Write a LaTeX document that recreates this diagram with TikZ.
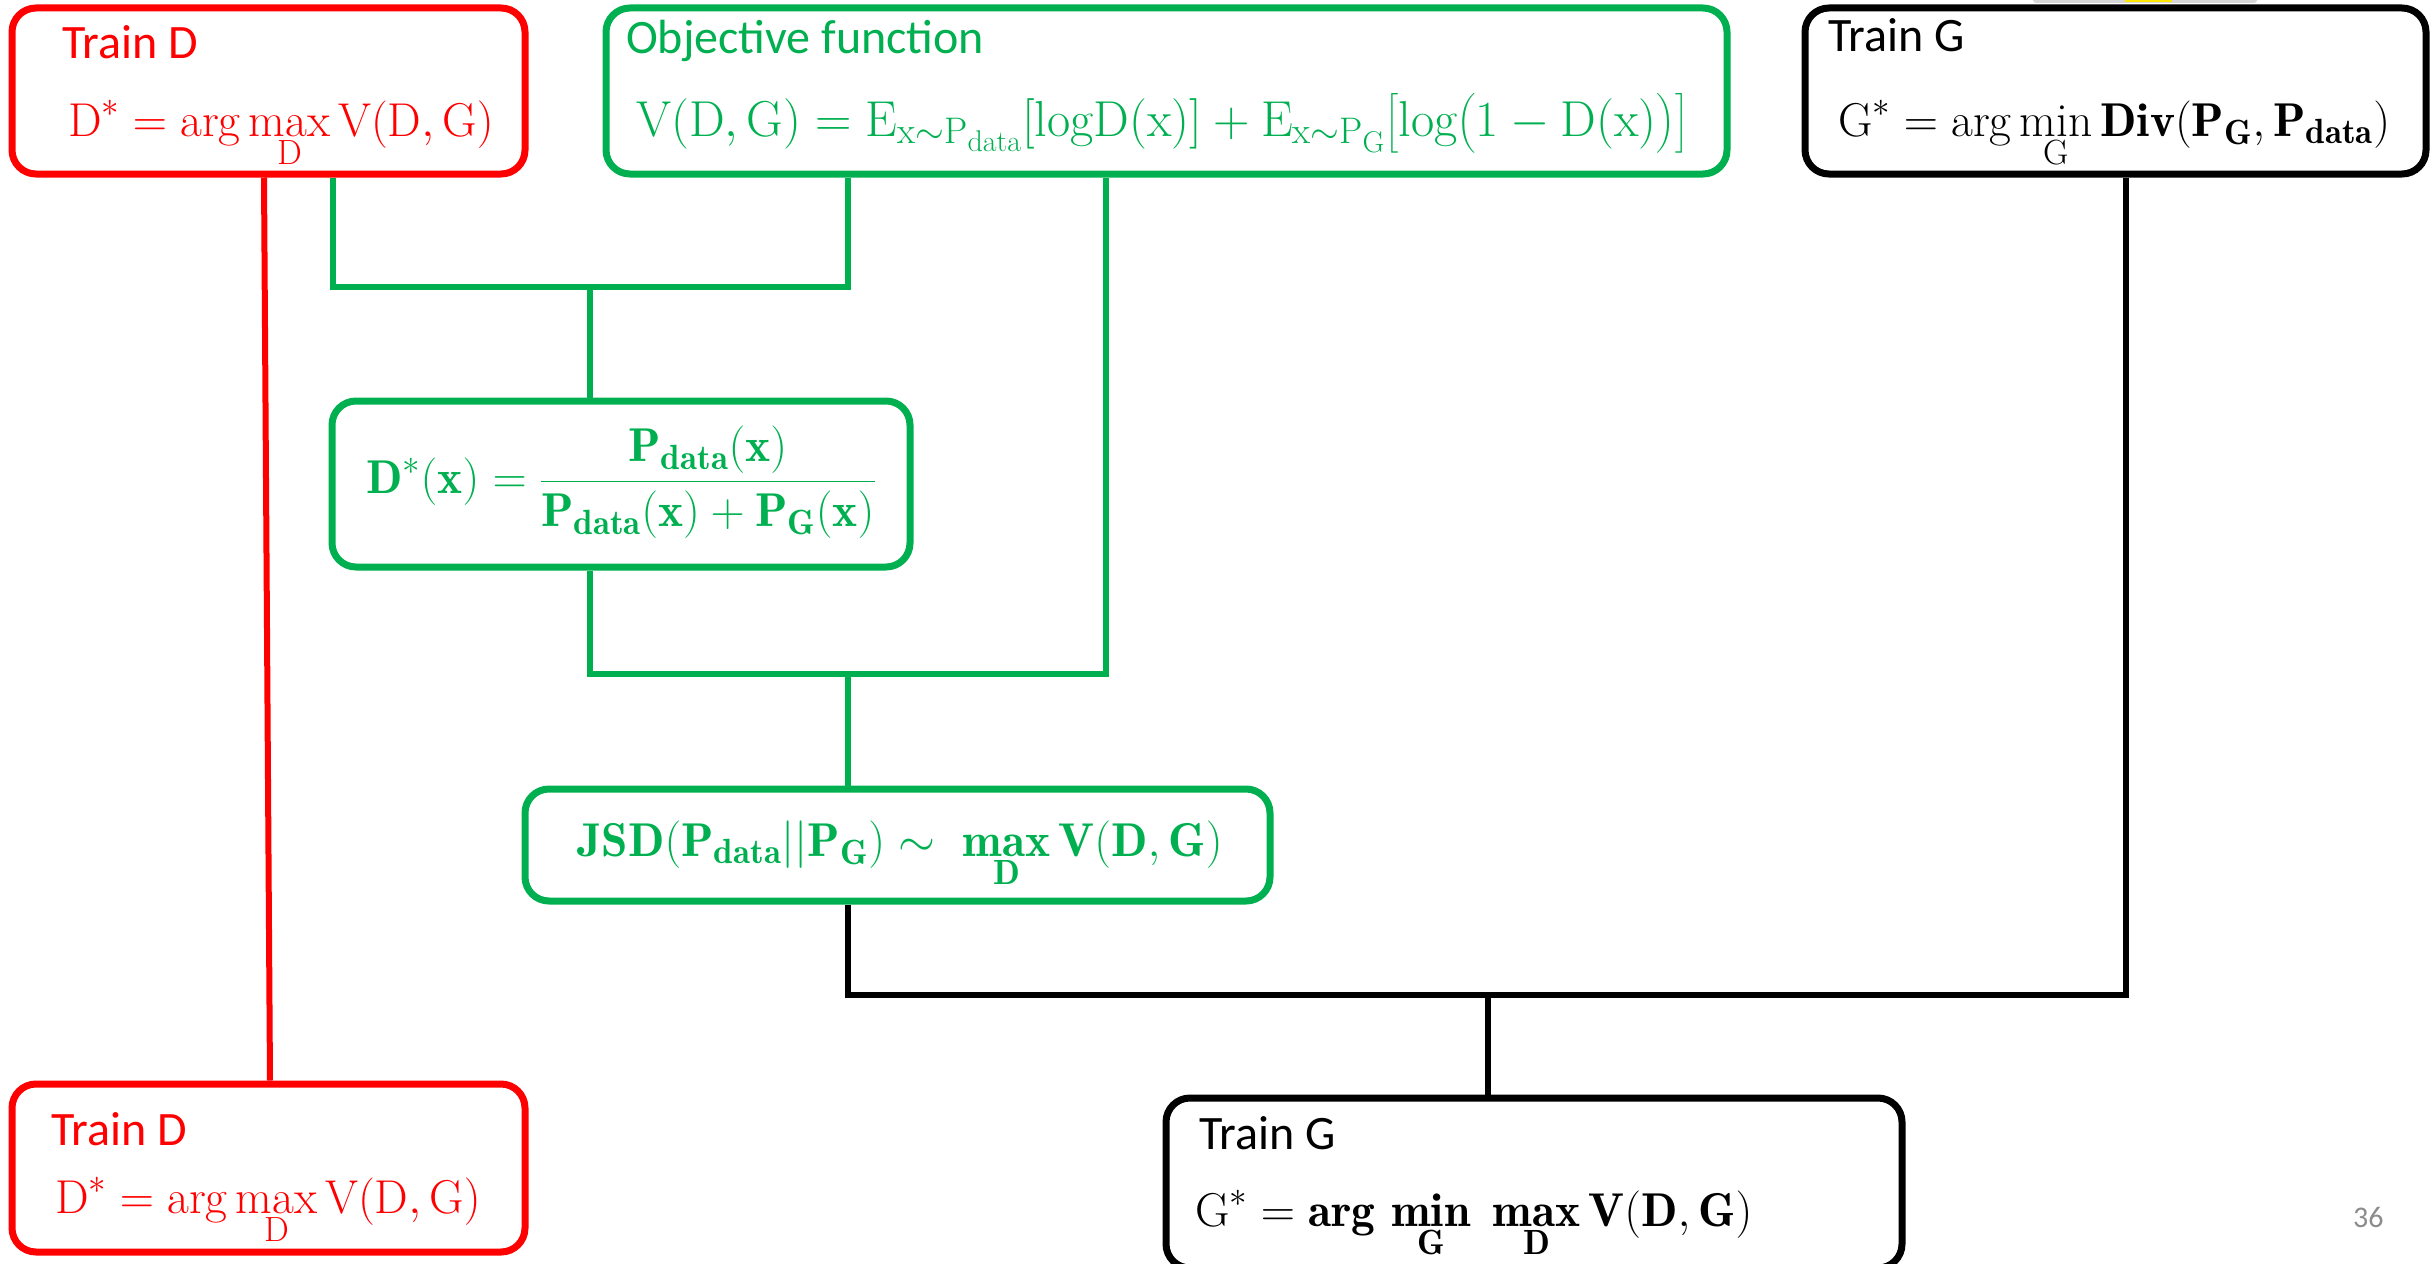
\RequirePackage{fix-cm}
\documentclass[tikz,border=0pt]{standalone}
\usepackage{amsmath}
\usepackage{fontspec}
\newfontfamily\labelfont{Carlito}
\DeclareMathSizes{47.5}{47.5}{35}{28}
\DeclareMathSizes{50.5}{50.5}{37}{30}
\definecolor{pptgreen}{HTML}{00B050}
\definecolor{pptred}{HTML}{FF0000}
\definecolor{slidegray}{HTML}{8C8C8C}
\tikzset{
  panel/.style={draw=#1, line width=7pt, rounded corners=24pt, inner sep=0pt},
  lbl/.style={anchor=base west, inner sep=0pt, font=\labelfont\fontsize{48}{52}\selectfont},
  eq/.style={inner sep=0pt, font=\fontsize{47.5}{54}\selectfont},
  wideeq/.style={inner sep=0pt, font=\fontsize{50.5}{56}\selectfont},
  link/.style={draw=#1, line width=6pt},
}
\newcommand{\rmx}[1]{\mathrm{#1}}
\newcommand{\bfx}[1]{\mathbf{#1}}
\begin{document}
\begin{tikzpicture}[x=1pt,y=-1pt]
\useasboundingbox (0,0) rectangle (2435,1263);

% small object peeking in at the top edge
\fill[black!16, rounded corners=3pt] (2033,-12) rectangle (2257,3);
\fill[yellow!90!orange] (2125,-12) rectangle (2172,2);

% ---------- boxes ----------
\node[panel=pptred, minimum width=513pt, minimum height=166pt] (rdA) at (268.5,91) {};
\node[panel=pptgreen, minimum width=1121pt, minimum height=166pt] (obj) at (1166.5,91) {};
\node[panel=black, minimum width=621pt, minimum height=166pt] (tgA) at (2115.5,91) {};
\node[panel=pptgreen, minimum width=578pt, minimum height=166pt] (dstar) at (621,484) {};
\node[panel=pptgreen, minimum width=745pt, minimum height=112pt] (jsd) at (897.5,845) {};
\node[panel=pptred, minimum width=513pt, minimum height=168pt] (rdB) at (268.5,1168) {};
\node[panel=black, minimum width=736pt, minimum height=170pt] (tgB) at (1534,1183) {};

% ---------- texts ----------
\node[lbl, text=pptred] (rdAt) at (62,59) {Train D};
\node[eq, anchor=base west, text=pptred] (rdAf) at (68,136)
  {$\displaystyle \rmx{D}^{*}=\arg\max_{\rmx{D}}\rmx{V}(\rmx{D},\rmx{G})$};

\node[lbl, text=pptgreen] (objt) at (626,53) {Objective function};
\node[wideeq, anchor=base west, text=pptgreen] (objf) at (636,136)
  {$\rmx{V}(\rmx{D},\rmx{G})=\rmx{E}_{\rmx{x}\sim\rmx{P}_{\rmx{data}}}[\rmx{logD}(\rmx{x})]+\rmx{E}_{\rmx{x}\sim\rmx{P}_{\rmx{G}}}\bigl[\rmx{log}\bigl(1-\rmx{D}(\rmx{x})\bigr)\bigr]$};

\node[lbl] (tgAt) at (1828,52) {Train G};
\node[eq, anchor=base west] (tgAf) at (1838,136)
  {$\displaystyle \rmx{G}^{*}=\arg\min_{\rmx{G}}\bfx{Div}(\bfx{P}_{\bfx{G}},\bfx{P}_{\bfx{data}})$};

\node[eq, text=pptgreen] (dsf) at ([yshift=2pt]dstar.center)
  {$\displaystyle \bfx{D}^{*}(\bfx{x})=\frac{\bfx{P}_{\bfx{data}}(\bfx{x})}{\bfx{P}_{\bfx{data}}(\bfx{x})+\bfx{P}_{\bfx{G}}(\bfx{x})}$};

\node[eq, anchor=base, text=pptgreen] (jsdf) at (900,856)
  {$\displaystyle \bfx{JSD}(\bfx{P}_{\bfx{data}}||\bfx{P}_{\bfx{G}})\sim\ \mathop{\bfx{max}}\limits_{\bfx{D}}\bfx{V}(\bfx{D},\bfx{G})$};

\node[lbl, text=pptred] (rdBt) at (51,1145) {Train D};
\node[eq, anchor=base west, text=pptred] (rdBf) at (55,1213)
  {$\displaystyle \rmx{D}^{*}=\arg\max_{\rmx{D}}\rmx{V}(\rmx{D},\rmx{G})$};

\node[lbl] (tgBt) at (1199,1149) {Train G};
\node[eq, anchor=base west] (tgBf) at (1195,1226)
  {$\displaystyle \rmx{G}^{*}=\bfx{arg}\,\mathop{\bfx{min}}\limits_{\bfx{G}}\ \mathop{\bfx{max}}\limits_{\bfx{D}}\bfx{V}(\bfx{D},\bfx{G})$};

\node[anchor=base west, inner sep=0pt, font=\labelfont\fontsize{30}{34}\selectfont, text=slidegray] (pg) at (2353,1227) {36};

% ---------- connectors ----------
\coordinate (rdAg) at ([xshift=64.5pt]rdA.south);
\coordinate (objL) at ([xshift=-318.5pt]obj.south);
\coordinate (objR) at ([xshift=-60.5pt]obj.south);
\coordinate (dsT) at ([xshift=-31pt]dstar.north);
\coordinate (dsB) at ([xshift=-31pt]dstar.south);
\coordinate (jsdT) at ([xshift=-49.5pt]jsd.north);
\coordinate (jsdB) at ([xshift=-49.5pt]jsd.south);
\coordinate (tgAB) at ([xshift=10.5pt]tgA.south);
\coordinate (j1) at (590,287);
\coordinate (j2) at (848,674);
\coordinate (j3) at (1488,995);

\draw[link=pptred] ([xshift=-4.5pt]rdA.south) -- ([xshift=1.5pt]rdB.north);

\draw[link=pptgreen] (rdAg) |- (j1) -| (objL);
\draw[link=pptgreen] (j1) -- (dsT);
\draw[link=pptgreen] (dsB) |- (j2) -| (objR);
\draw[link=pptgreen] (j2) -- (jsdT);

\draw[link=black] (jsdB) |- (j3) -| (tgAB);
\draw[link=black] (j3) -- (j3 |- tgB.north);
\end{tikzpicture}
\end{document}
